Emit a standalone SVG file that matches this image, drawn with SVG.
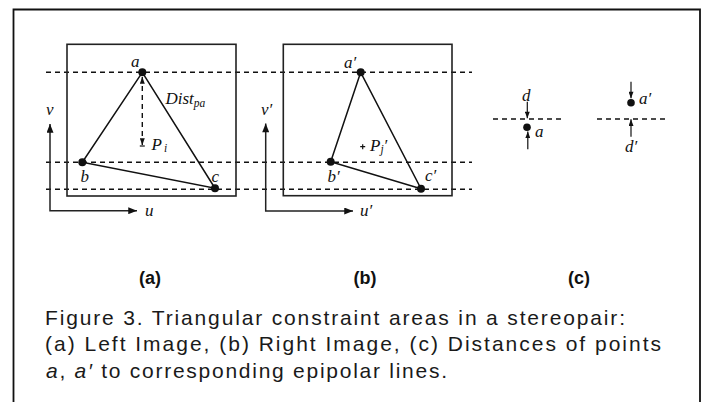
<svg xmlns="http://www.w3.org/2000/svg" width="705" height="402" viewBox="0 0 705 402">
<defs>
<style>
.lbl{font-family:"Liberation Serif","Times New Roman",serif;font-style:italic;font-size:17px;fill:#111}
.sub{font-size:11.5px}
.cap{font-family:"Liberation Sans",Arial,sans-serif;font-size:21px;fill:#1a1a1a}
.bold{font-family:"Liberation Sans",Arial,sans-serif;font-size:18px;font-weight:bold;fill:#111;text-anchor:middle}
.dash{stroke:#111;stroke-width:1.4;stroke-dasharray:5 4;fill:none}
.box{stroke:#222;stroke-width:1.6;fill:none}
.tri{stroke:#111;stroke-width:1.5;fill:none}
.axis{stroke:#222;stroke-width:1.5;fill:none}
.thin{stroke:#111;stroke-width:1.2;fill:none}
.dot{fill:#111}
</style>
<marker id="ah" viewBox="0 0 10 8" refX="10" refY="4" markerWidth="10" markerHeight="7" markerUnits="userSpaceOnUse" orient="auto-start-reverse"><path d="M0,0 L10,4 L0,8 Z" fill="#111"/></marker>
<marker id="sh" viewBox="0 0 8 6" refX="8" refY="3" markerWidth="7" markerHeight="5" markerUnits="userSpaceOnUse" orient="auto-start-reverse"><path d="M0,0 L8,3 L0,6 Z" fill="#111"/></marker>
</defs>

<g id="frame"><path d="M13.5,402 V9.5 H700 V402" fill="none" stroke="#111" stroke-width="1.8"/></g>

<g id="connectors">
<line class="dash" x1="46" y1="72.3" x2="472" y2="72.3"/>
<line class="dash" x1="46" y1="162.3" x2="472" y2="162.3"/>
<line class="dash" x1="46" y1="189.3" x2="472" y2="189.3"/>
<path class="axis" d="M50,124 V210.7 H137" marker-start="url(#ah)" marker-end="url(#ah)"/>
<path class="axis" d="M265.7,123.5 V211 H353" marker-start="url(#ah)" marker-end="url(#ah)"/>
<path class="dash" d="M142.3,77 V145" marker-start="url(#sh)" marker-end="url(#sh)" stroke-dasharray="4 3"/>
<line class="thin" x1="139.8" y1="146" x2="144.8" y2="146"/>
<line class="dash" x1="493" y1="119" x2="565" y2="119"/>
<line class="dash" x1="597" y1="119" x2="668" y2="119"/>
<line class="thin" x1="527.3" y1="101.7" x2="527.3" y2="118.3" marker-end="url(#sh)"/>
<line class="thin" x1="527.8" y1="149.3" x2="527.8" y2="131.5" marker-end="url(#sh)"/>
<line class="thin" x1="631" y1="81.7" x2="631" y2="98.3" marker-end="url(#sh)"/>
<line class="thin" x1="631" y1="136.7" x2="631" y2="119.3" marker-end="url(#sh)"/>
</g>

<g id="left-image">
<rect class="box" x="67" y="44.3" width="169" height="151.7"/>
<path class="tri" d="M142.3,72.3 L82.3,162.3 L215,188.3 Z"/>
<circle class="dot" cx="142.3" cy="72.3" r="4"/>
<circle class="dot" cx="82.3" cy="162.3" r="4"/>
<circle class="dot" cx="215" cy="188.3" r="4"/>
<text class="lbl" x="131" y="67">a</text>
<text class="lbl" x="80.5" y="182">b</text>
<text class="lbl" x="211.5" y="182">c</text>
<text class="lbl" x="46" y="115">v</text>
<text class="lbl" x="145" y="215.5">u</text>
<text class="lbl" x="165.5" y="104" font-size="16">Dist<tspan class="sub" dy="3">pa</tspan></text>
<text class="lbl" x="151.5" y="150">P<tspan class="sub" dx="2" dy="2">i</tspan></text>
</g>

<g id="right-image">
<rect class="box" x="283.3" y="44.3" width="168.7" height="151.4"/>
<path class="tri" d="M360.7,72.3 L330.7,161.7 L421,188.7 Z"/>
<circle class="dot" cx="360.7" cy="72.3" r="4"/>
<circle class="dot" cx="330.7" cy="161.7" r="4"/>
<circle class="dot" cx="421" cy="188.7" r="4"/>
<path d="M360.2,146.7 h5 M362.7,144.2 v5" stroke="#111" stroke-width="1.2"/>
<text class="lbl" x="344" y="68.3">a′</text>
<text class="lbl" x="327.5" y="182">b′</text>
<text class="lbl" x="425" y="181">c′</text>
<text class="lbl" x="261" y="115">v′</text>
<text class="lbl" x="360" y="215.5">u′</text>
<text class="lbl" x="370" y="150.7">P<tspan class="sub" dy="2.5">j</tspan><tspan dy="-2.5">′</tspan></text>
</g>

<g id="distances">
<circle class="dot" cx="527" cy="127.3" r="3.8"/>
<circle class="dot" cx="631" cy="102.7" r="3.8"/>
<text class="lbl" x="522" y="101">d</text>
<text class="lbl" x="535" y="137">a</text>
<text class="lbl" x="639" y="104">a′</text>
<text class="lbl" x="625" y="152">d′</text>
</g>

<g id="labels">
<text class="bold" x="150" y="284">(a)</text>
<text class="bold" x="365" y="284">(b)</text>
<text class="bold" x="579" y="284">(c)</text>
</g>

<g id="caption">
<text class="cap" x="45" y="325" textLength="580" lengthAdjust="spacing">Figure 3. Triangular constraint areas in a stereopair:</text>
<text class="cap" x="45" y="351" textLength="616" lengthAdjust="spacing">(a) Left Image, (b) Right Image, (c) Distances of points</text>
<text class="cap" x="46" y="377.5" textLength="401" lengthAdjust="spacing"><tspan font-style="italic">a</tspan>, <tspan font-style="italic">a′</tspan> to corresponding epipolar lines.</text>
</g>
</svg>
